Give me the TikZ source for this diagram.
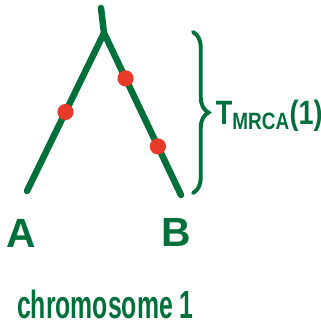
\documentclass[tikz,border=0pt]{standalone}
\usepackage{fontspec}
\setmainfont{Liberation Sans}
\usetikzlibrary{decorations.pathreplacing}
\definecolor{penGreen}{RGB}{0,112,58}
\definecolor{dotRed}{RGB}{232,58,42}

\begin{document}
\begin{tikzpicture}[x=0.025cm,y=-0.025cm,
    branch/.style={penGreen,line width=4.6pt,line cap=round},
    mutation/.style={circle,fill=dotRed,inner sep=0pt,minimum size=11.5pt},
    leaf/.style={penGreen,font=\fontsize{29}{31}\selectfont\bfseries},
    handtext/.style={penGreen,font=\fontsize{24}{26}\selectfont\bfseries}]
    \useasboundingbox (0,0) rectangle (321,328);

    % Tree
    \coordinate (top) at (101,8);
    \coordinate (mrca) at (104,33);
    \coordinate (tipA) at (27,191);
    \coordinate (tipB) at (181,195);
    \draw[branch] (top) -- (mrca);
    \draw[branch] (mrca) -- (tipA) node[mutation,pos=0.5] (mutA) {};
    \draw[branch] (mrca) -- (tipB) node[mutation,pos=0.28] (mutB1) {}
                                   node[mutation,pos=0.7] (mutB2) {};

    % Brace for the time span
    \coordinate (braceTop) at (193,32);
    \coordinate (braceBot) at (193,193);
    \draw[penGreen,line width=2.8pt,line cap=round,decorate,
          decoration={brace,amplitude=11pt}] (braceTop) -- (braceBot);
    \node[handtext,anchor=base west,xscale=0.8] (tmrca) at (212,124)
        {T\textsubscript{MRCA}(1)};

    % Labels
    \node[leaf,anchor=base] (labA) at (21,247) {A};
    \node[leaf,anchor=base] (labB) at (176,246) {B};
    \node[handtext,anchor=base west,xscale=0.63,
          font=\fontsize{28}{30}\selectfont\bfseries] (chrom) at (14,318) {chromosome 1};
\end{tikzpicture}
\end{document}
